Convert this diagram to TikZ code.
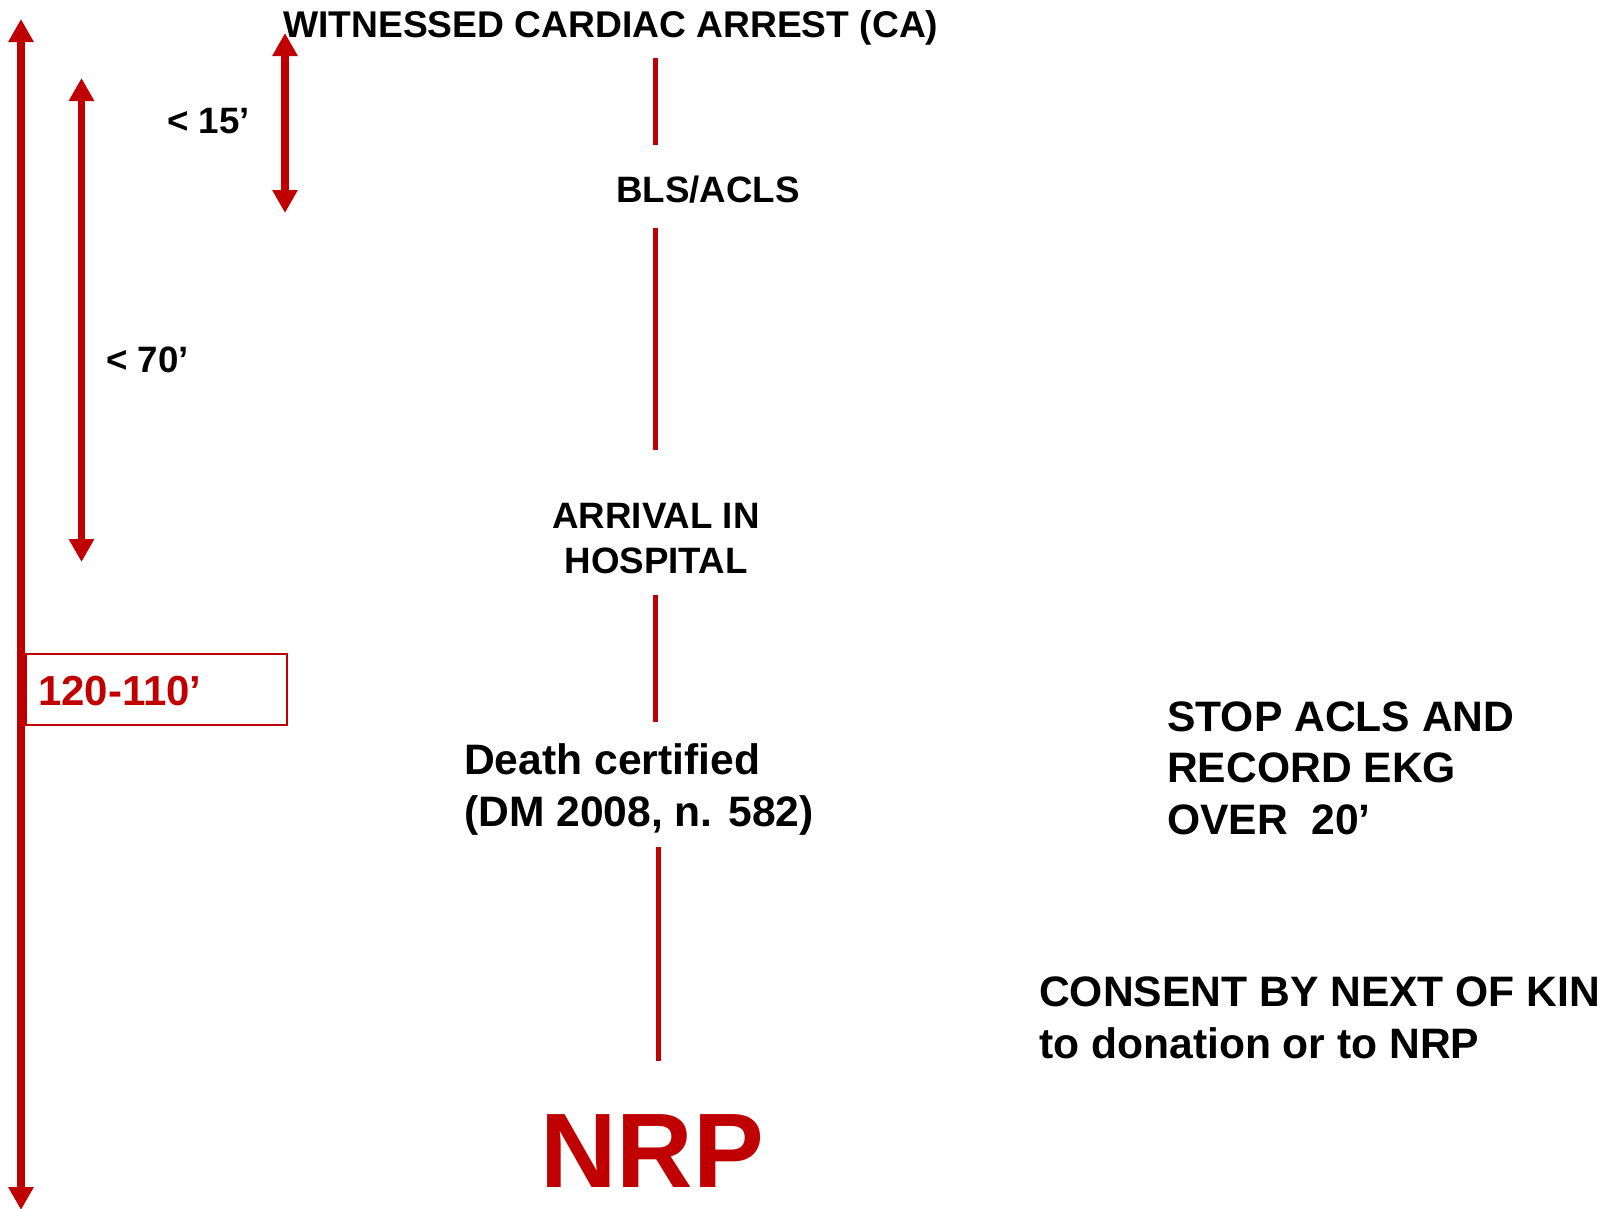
\documentclass[tikz,border=0pt]{standalone}
\usepackage{fontspec}
\setmainfont{Liberation Sans}
\usetikzlibrary{arrows.meta}
\definecolor{darkred}{HTML}{C00000}
\begin{document}
\begin{tikzpicture}[x=1pt,y=-1pt,
  label/.style={inner sep=0pt, anchor=base west, font=\bfseries\fontsize{36.7}{44}\selectfont},
  % multi-line labels are placed by the baseline of their last line
  biglabel/.style={inner sep=0pt, anchor=base west, align=left, font=\bfseries\fontsize{42.6}{51.5}\selectfont},
  link/.style={draw=darkred, line width=4.6pt},
  span/.style={draw=darkred, line width=7.6pt, {Triangle[length=23pt,width=24pt]}-{Triangle[length=23pt,width=24pt]}}]
\useasboundingbox (0,0) rectangle (1611,1208);

% time spans on the left
\coordinate (allTop) at (21,19);
\coordinate (allBot) at (21,1210);
\coordinate (midTop) at (81.5,78);
\coordinate (midBot) at (81.5,562);
\coordinate (shortTop) at (285,33);
\coordinate (shortBot) at (285,213);
\draw[span] (allTop) -- (allBot);
\draw[span] (midTop) -- (midBot);
\draw[span] (shortTop) -- (shortBot);

\node[label] (t15) at (167,133) {< 15’};
\node[label] (t70) at (106,372) {< 70’};

\node (rangebox) [draw=darkred, line width=1.8pt, inner sep=0pt, anchor=north west,
  minimum width=261pt, minimum height=71pt] at (25,653) {};
\node[label, font=\bfseries\fontsize{42}{50}\selectfont, text=darkred] (range) at (38,705) {120-110’};

% main sequence
\node[label, font=\bfseries\fontsize{37.2}{44}\selectfont] (ca) at (283,37) {WITNESSED CARDIAC ARREST (CA)};
\node[label] (bls) at (616,202) {BLS/ACLS};
\node[inner sep=0pt, anchor=base, align=center, font=\bfseries\fontsize{36.7}{45}\selectfont] (arrival) at (656,573) {ARRIVAL IN\\HOSPITAL};
\node[biglabel] (death) at (464,826) {Death certified\\(DM 2008, n. 582)};
\node[inner sep=0pt, anchor=base, font=\bfseries\fontsize{106}{120}\selectfont, text=darkred] (nrp) at (652,1187) {NRP};

\coordinate (s1a) at (655.5,58);   \coordinate (s1b) at (655.5,145);
\coordinate (s2a) at (655.5,228);  \coordinate (s2b) at (655.5,450);
\coordinate (s3a) at (655.5,595);  \coordinate (s3b) at (655.5,722);
\coordinate (s4a) at (658.6,847);  \coordinate (s4b) at (658.6,1061);
\draw[link] (s1a) -- (s1b);
\draw[link] (s2a) -- (s2b);
\draw[link] (s3a) -- (s3b);
\draw[link] (s4a) -- (s4b);

% side notes
\node[biglabel] (stop) at (1167,834) {STOP ACLS AND\\RECORD EKG\\OVER\ \ 20’};
\node[biglabel] (consent) at (1039,1058) {CONSENT BY NEXT OF KIN\\to donation or to NRP};
\end{tikzpicture}
\end{document}
